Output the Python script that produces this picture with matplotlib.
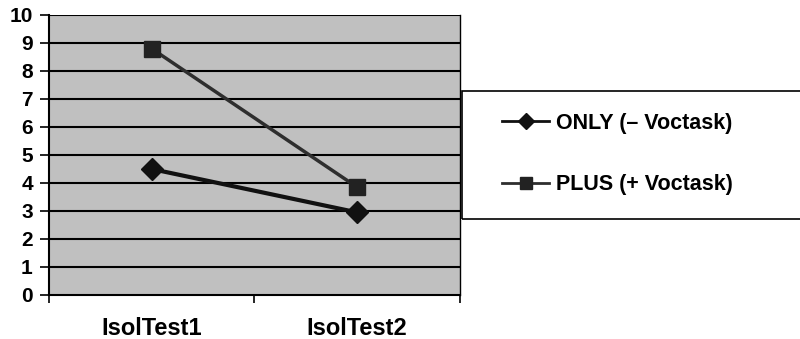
import matplotlib.pyplot as plt
from matplotlib.patches import Rectangle

categories = ["IsolTest1", "IsolTest2"]
only_vals = [4.5, 2.95]
plus_vals = [8.8, 3.85]
series_names = ["ONLY (\u2013 Voctask)", "PLUS (+ Voctask)"]
yticks = list(range(0, 11))

plt.rcParams['font.family'] = ['Liberation Sans', 'DejaVu Sans']
plt.rcParams['font.weight'] = 'bold'

fig = plt.figure(figsize=(8, 3.39), dpi=100)
ax = fig.add_axes([0.061, 0.1298, 0.514, 0.826])
ax.set_facecolor('#c0c0c0')

x = [0.5, 1.5]
ax.plot(x, only_vals, color='#111111', lw=3, marker='D', ms=11,
        mfc='#111111', mec='#111111', label=series_names[0], zorder=3)
ax.plot(x, plus_vals, color='#2e2e2e', lw=2.5, marker='s', ms=12,
        mfc='#222222', mec='#222222', label=series_names[1], zorder=3)

ax.set_xlim(0, 2)
ax.set_ylim(0, 10)
ax.set_yticks(yticks)
ax.set_yticklabels([str(t) for t in yticks], fontsize=15, fontweight='bold')
for t in yticks[1:]:
    ax.axhline(t, color='black', lw=1.5, zorder=1)

ax.set_xticks([0, 1, 2])
ax.set_xticklabels([])
ax.set_xticks(x, minor=True)
ax.set_xticklabels(categories, minor=True, fontsize=17, fontweight='bold')
ax.tick_params(axis='x', which='minor', length=0, pad=16)
ax.tick_params(axis='x', which='major', length=6, width=1.2, direction='out')
ax.tick_params(axis='y', length=6.5, width=1.2, direction='out', pad=5)

ax.spines['top'].set_visible(False)
ax.spines['left'].set_linewidth(1.5)
ax.spines['bottom'].set_linewidth(1.5)
ax.spines['right'].set_linewidth(1.0)

# legend frame box
fig.patches.append(Rectangle((462 / 800, 1 - 219 / 339), 0.5, 128 / 339,
                             transform=fig.transFigure, fill=False,
                             edgecolor='black', lw=1.2))
leg = fig.legend(loc='center left', bbox_to_anchor=(502 / 800, 1 - 154 / 339),
                 frameon=False, fontsize=15.5, handlelength=2.2,
                 handletextpad=0.33, labelspacing=1.9, markerscale=0.7,
                 borderpad=0, borderaxespad=0)
for ln in leg.get_lines():
    ln.set_linewidth(2)

fig.savefig('out.png', dpi=100)
